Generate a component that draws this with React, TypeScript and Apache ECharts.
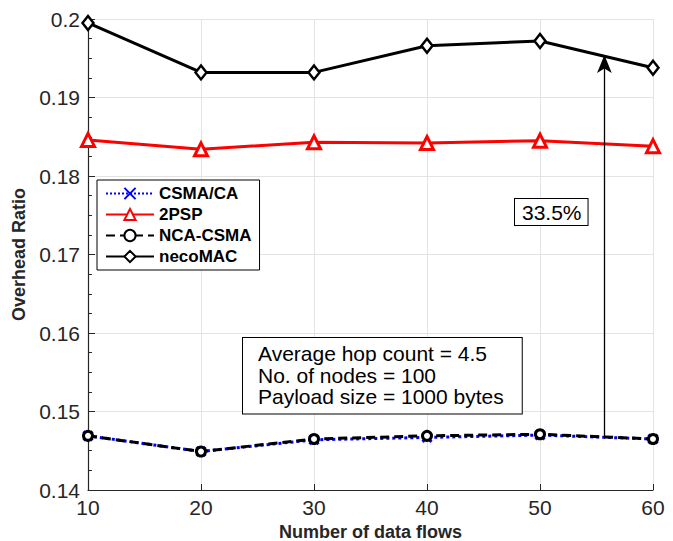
import React, { useEffect, useRef } from "react";
import * as echarts from "echarts";

const flows = [10, 20, 30, 40, 50, 60];
const csmaCA = [0.1469, 0.1449, 0.1464, 0.1467, 0.147, 0.1465];
const twoPSP = [0.1846, 0.1834, 0.1843, 0.1842, 0.1845, 0.1838];
const ncaCSMA = [0.1469, 0.1449, 0.1465, 0.1469, 0.1471, 0.1465];
const necoMAC = [0.1995, 0.1932, 0.1932, 0.1966, 0.1972, 0.1938];
const seriesNames = ["CSMA/CA", "2PSP", "NCA-CSMA", "necoMAC"];
const arrowX = 55.7;
const arrowFrom = 0.1468;
const arrowTo = 0.1954;
const gainLabel = "33.5%";
const infoLines = ["Average hop count = 4.5", "No. of nodes = 100", "Payload size = 1000 bytes"];

const FONT = "'Liberation Sans', Arial, Helvetica, sans-serif";

const pts = (ys: number[]) => flows.map((x, i) => [x, ys[i]]);

export default function App() {
  const ref = useRef<HTMLDivElement>(null);
  useEffect(() => {
    document.body.style.margin = "0";
    const chart = echarts.init(ref.current!, undefined, { renderer: "svg" });
    chart.setOption({
      animation: false,
      backgroundColor: "#fff",
      textStyle: { fontFamily: FONT },
      grid: { left: 88, right: 20, top: 19, bottom: 51, containLabel: false, outerBoundsMode: "none" },
      legend: {
        orient: "vertical",
        left: 97,
        top: 180,
        data: seriesNames,
        backgroundColor: "#fff",
        borderColor: "#000",
        borderWidth: 1,
        borderRadius: 0,
        padding: [5, 8, 5, 8],
        itemWidth: 48,
        itemHeight: 14,
        itemGap: 4,
        textStyle: { fontFamily: FONT, fontSize: 17, fontWeight: "bold", color: "#000", padding: [0, 0, 0, 0] },
      },
      xAxis: {
        type: "value",
        min: 10,
        max: 60,
        interval: 10,
        name: "Number of data flows",
        nameLocation: "middle",
        nameGap: 32,
        nameTextStyle: { fontFamily: FONT, fontSize: 18, fontWeight: "bold", color: "#262626" },
        axisLine: { lineStyle: { color: "#262626", width: 1.2 } },
        axisTick: { inside: true, length: 6, lineStyle: { color: "#262626" } },
        axisLabel: { fontFamily: FONT, fontSize: 21, color: "#262626", margin: 7 },
        splitLine: { show: true, lineStyle: { color: "#e3e3e3", width: 1 } },
      },
      yAxis: {
        type: "value",
        min: 0.14,
        max: 0.2,
        interval: 0.01,
        name: "Overhead Ratio",
        nameLocation: "middle",
        nameGap: 56,
        nameTextStyle: { fontFamily: FONT, fontSize: 18, fontWeight: "bold", color: "#262626" },
        axisLine: { show: true, lineStyle: { color: "#262626", width: 1.2 } },
        axisTick: { inside: true, length: 7, lineStyle: { color: "#262626" } },
        minorTick: { show: true, splitNumber: 4, length: 4, lineStyle: { color: "#262626" } },
        axisLabel: {
          fontFamily: FONT,
          fontSize: 21,
          color: "#262626",
          margin: 8,
          formatter: (v: number) => String(+v.toFixed(2)),
        },
        splitLine: { show: true, lineStyle: { color: "#e3e3e3", width: 1 } },
      },
      series: [
        {
          name: seriesNames[0],
          type: "line",
          data: pts(csmaCA),
          symbol: "path://M0,0L10,10M10,0L0,10",
          symbolSize: 9,
          lineStyle: { color: "#0000ff", width: 3, type: "dotted" },
          itemStyle: { color: "#0000ff", borderColor: "#0000ff", borderWidth: 3 },
          z: 2,
        },
        {
          name: seriesNames[1],
          type: "line",
          data: pts(twoPSP),
          symbol: "triangle",
          symbolSize: 13,
          lineStyle: { color: "#ff0000", width: 3 },
          itemStyle: { color: "#fff", borderColor: "#ff0000", borderWidth: 3 },
          z: 3,
        },
        {
          name: seriesNames[2],
          type: "line",
          data: pts(ncaCSMA),
          symbol: "circle",
          symbolSize: 9,
          lineStyle: { color: "#000", width: 3, type: [9, 5] },
          itemStyle: { color: "#fff", borderColor: "#000", borderWidth: 3 },
          z: 4,
        },
        {
          name: seriesNames[3],
          type: "line",
          data: pts(necoMAC),
          symbol: "diamond",
          symbolSize: [11, 14],
          lineStyle: { color: "#000", width: 3 },
          itemStyle: { color: "#fff", borderColor: "#000", borderWidth: 2.5 },
          z: 5,
          markLine: {
            silent: true,
            symbol: ["none", "arrow"],
            symbolSize: [11, 18],
            label: { show: false },
            lineStyle: { color: "#000", width: 1.3, type: "solid" },
            data: [[{ coord: [arrowX, arrowFrom] }, { coord: [arrowX, arrowTo] }]],
          },
        },
      ],
      graphic: [
        {
          type: "text",
          left: 514,
          top: 198,
          z: 100,
          style: {
            text: gainLabel,
            fontFamily: FONT,
            fontSize: 21,
            fill: "#000",
            backgroundColor: "#fff",
            borderColor: "#000",
            borderWidth: 1,
            padding: [3, 6, 2, 7],
          },
        },
        {
          type: "text",
          left: 242,
          top: 337,
          z: 100,
          style: {
            text: infoLines.join("\n"),
            fontFamily: FONT,
            fontSize: 21,
            lineHeight: 21.5,
            fill: "#000",
            backgroundColor: "#fff",
            borderColor: "#000",
            borderWidth: 1,
            padding: [5, 18, 6, 15],
          },
        },
      ],
    });
    return () => chart.dispose();
  }, []);
  return <div ref={ref} style={{ width: 673, height: 541 }} />;
}
